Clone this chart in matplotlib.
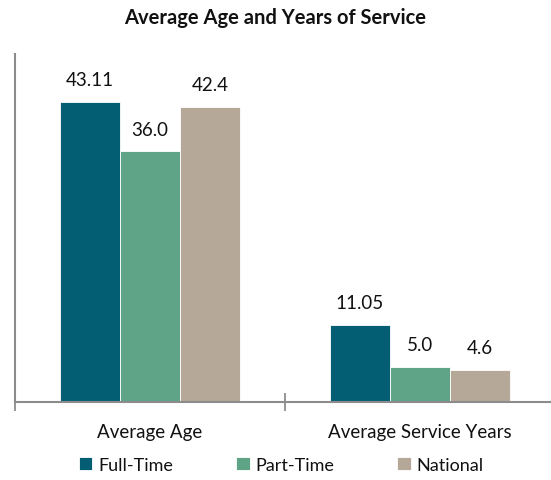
import matplotlib
matplotlib.use("Agg")
import matplotlib.pyplot as plt
import numpy as np

categories = ["Average Age", "Average Service Years"]
series_names = ["Full-Time", "Part-Time", "National"]
full_time = [43.11, 11.05]
part_time = [36.0, 5.0]
national = [42.4, 4.6]
value_labels = [["43.11", "11.05"], ["36.0", "5.0"], ["42.4", "4.6"]]
colors = ["#045E73", "#5FA487", "#B5A898"]

plt.rcParams["font.family"] = ["Lato", "DejaVu Sans"]

W, H = 551, 481
fig = plt.figure(figsize=(W / 100, H / 100), dpi=100)
# axes spans x 15..555 px, y 55..403 px
ax = fig.add_axes([15 / W, (H - 403) / H, 540 / W, (403 - 55) / H])

x = np.arange(len(categories))
bw = 2 / 9
for i, (vals, name, col) in enumerate(zip([full_time, part_time, national], series_names, colors)):
    pos = x + (i - 1) * bw
    bars = ax.bar(pos, vals, width=bw, color=col, label=name, edgecolor="white", linewidth=0.6, zorder=2)
    for b, lab in zip(bars, value_labels[i]):
        ax.annotate(lab, (b.get_x() + b.get_width() / 2, b.get_height()),
                    xytext=(0, 10), textcoords="offset points", ha="center", va="bottom",
                    fontsize=13.5, color="#111111")

ax.set_xlim(-0.5, 1.5)
ax.set_ylim(0, 50)
ax.set_yticks([])
ax.set_xticks([-0.5, 0.5, 1.5])
ax.set_xticklabels([])
ax.tick_params(axis="x", direction="inout", length=13, width=1.3, color="#8c8c8c")
for c, cat in zip(x, categories):
    ax.text(c, -0.085, cat, transform=ax.get_xaxis_transform(), ha="center", va="center",
            fontsize=13.5, color="#111111")

for s in ["top", "right"]:
    ax.spines[s].set_visible(False)
for s in ["left", "bottom"]:
    ax.spines[s].set_color("#8c8c8c")
    ax.spines[s].set_linewidth(1.5)

fig.text(275 / W, 1 - 18 / H, "Average Age and Years of Service", ha="center", va="center",
         fontsize=14.5, fontweight="bold", color="#111111")

leg = fig.legend(loc="center", bbox_to_anchor=(281 / W, 1 - 466 / H), ncol=3, frameon=False,
                 fontsize=13, handlelength=0.75, handleheight=0.75, handletextpad=0.3,
                 columnspacing=3.5)
for t in leg.get_texts():
    t.set_color("#111111")

fig.savefig("out.png", dpi=100)
